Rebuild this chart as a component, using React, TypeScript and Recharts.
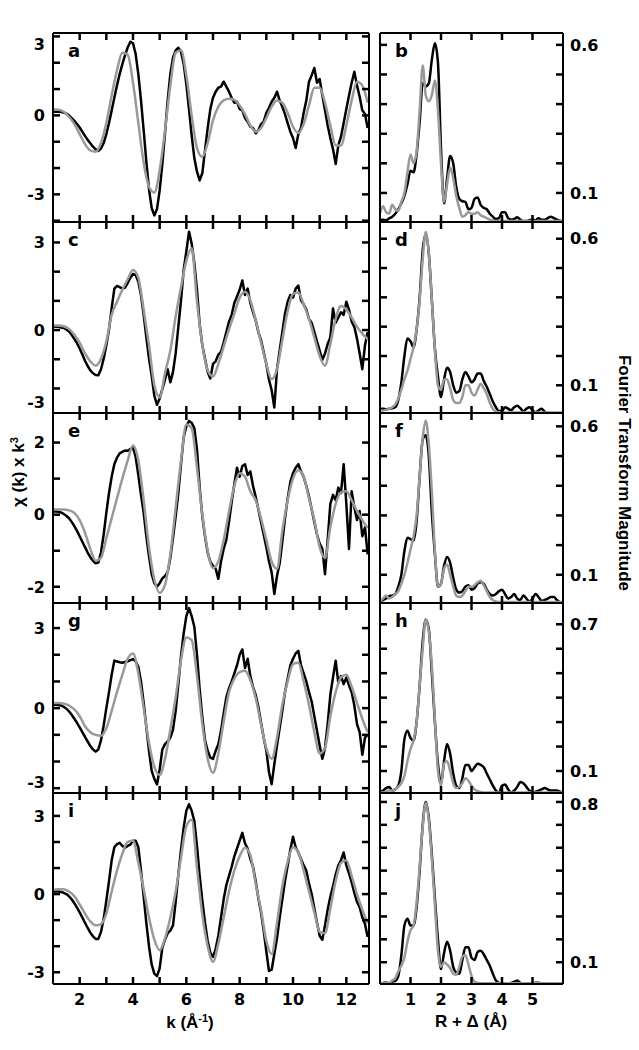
import React from 'react';
import { LineChart, Line, XAxis, YAxis } from 'recharts';

const W = 639;
const H = 1050;
const FONT = "'Liberation Sans', Arial, Helvetica, sans-serif";
const TICK_FONT = "'DejaVu Sans', 'Liberation Sans', Arial, sans-serif";

// ---------- x grids ----------
const kExp = [
  1.0, 1.1, 1.2, 1.3, 1.4, 1.5, 1.6, 1.7, 1.8, 1.9,
  2.0, 2.1, 2.2, 2.3, 2.4, 2.5, 2.6, 2.7, 2.8, 2.9,
  3.0, 3.1, 3.2, 3.3, 3.4, 3.5, 3.6, 3.7, 3.8, 3.9,
  4.0, 4.1, 4.2, 4.3, 4.4, 4.5, 4.6, 4.7, 4.8, 4.9,
  5.0, 5.1, 5.2, 5.3, 5.4, 5.5, 5.6, 5.7, 5.8, 5.9,
  6.0, 6.1, 6.2, 6.3, 6.4, 6.5, 6.6, 6.7, 6.8, 6.9,
  7.0, 7.1, 7.2, 7.3, 7.4, 7.5, 7.6, 7.7, 7.8, 7.9,
  8.0, 8.1, 8.2, 8.3, 8.4, 8.5, 8.6, 8.7, 8.8, 8.9,
  9.0, 9.1, 9.2, 9.3, 9.4, 9.5, 9.6, 9.7, 9.8, 9.9,
  10.0, 10.1, 10.2, 10.3, 10.4, 10.5, 10.6, 10.7, 10.8, 10.9,
  11.0, 11.1, 11.2, 11.3, 11.4, 11.5, 11.6, 11.7, 11.8, 11.9,
  12.0, 12.1, 12.2, 12.3, 12.4, 12.5, 12.6, 12.7, 12.8,
];
const kFit = [
  1.0, 1.2, 1.4, 1.6, 1.8, 2.0, 2.2, 2.4, 2.6, 2.8,
  3.0, 3.2, 3.4, 3.6, 3.8, 4.0, 4.2, 4.4, 4.6, 4.8,
  5.0, 5.2, 5.4, 5.6, 5.8, 6.0, 6.2, 6.4, 6.6, 6.8,
  7.0, 7.2, 7.4, 7.6, 7.8, 8.0, 8.2, 8.4, 8.6, 8.8,
  9.0, 9.2, 9.4, 9.6, 9.8, 10.0, 10.2, 10.4, 10.6, 10.8,
  11.0, 11.2, 11.4, 11.6, 11.8, 12.0, 12.2, 12.4, 12.6, 12.8,
];
const rGrid = [
  0.0, 0.1, 0.2, 0.3, 0.4, 0.5, 0.6, 0.7, 0.8, 0.9,
  1.0, 1.1, 1.2, 1.3, 1.4, 1.5, 1.6, 1.7, 1.8, 1.9,
  2.0, 2.1, 2.2, 2.3, 2.4, 2.5, 2.6, 2.7, 2.8, 2.9,
  3.0, 3.1, 3.2, 3.3, 3.4, 3.5, 3.6, 3.7, 3.8, 3.9,
  4.0, 4.1, 4.2, 4.3, 4.4, 4.5, 4.6, 4.7, 4.8, 4.9,
  5.0, 5.1, 5.2, 5.3, 5.4, 5.5, 5.6, 5.7, 5.8, 5.9,
  6.0,
];

// ---------- chi(k) * k^3 : experimental (black) ----------
const expA = [
  0.14, 0.14, 0.14, 0.13, 0.11, 0.07, 0.0, -0.1, -0.21, -0.33,
  -0.46, -0.62, -0.78, -0.93, -1.06, -1.19, -1.29, -1.35, -1.26, -1.05,
  -0.71, -0.29, 0.19, 0.67, 1.14, 1.57, 1.95, 2.28, 2.58, 2.8,
  2.74, 2.33, 1.57, 0.57, -0.57, -1.76, -2.8, -3.52, -3.8, -3.56,
  -2.85, -1.85, -0.67, 0.57, 1.57, 2.19, 2.47, 2.57, 2.42, 1.95,
  1.19, 0.24, -0.76, -1.62, -2.14, -2.47, -2.19, -1.33, -0.48, 0.24,
  0.67, 0.9, 1.05, 1.09, 1.28, 1.09, 0.9, 0.67, 0.48, 0.52,
  0.24, 0.19, -0.1, -0.24, -0.43, -0.48, -0.68, -0.57, -0.33, -0.24,
  0.1, 0.29, 0.52, 0.67, 0.9, 0.57, 0.33, 0.05, -0.29, -0.62,
  -0.86, -1.24, -0.71, -0.48, 0.1, 0.57, 1.28, 1.52, 1.8, 1.24,
  1.38, 0.76, 0.19, -0.38, -0.86, -1.28, -1.85, -1.14, -0.81, -0.29,
  0.24, 0.76, 1.24, 1.66, 1.14, 0.71, 0.19, 0.05, -0.48,
];
const expC = [
  0.12, 0.11, 0.11, 0.09, 0.07, 0.02, -0.05, -0.16, -0.3, -0.45,
  -0.63, -0.84, -1.05, -1.23, -1.38, -1.48, -1.54, -1.55, -1.34, -0.98,
  -0.52, 0.02, 0.74, 1.42, 1.51, 1.47, 1.42, 1.45, 1.61, 1.79,
  1.92, 1.88, 1.65, 1.2, 0.52, -0.25, -0.98, -1.57, -2.25, -2.56,
  -2.34, -2.02, -1.7, -1.34, -1.79, -1.43, -0.8, 0.11, 1.02, 2.06,
  2.69, 3.37, 2.96, 2.29, 1.38, 0.2, -0.52, -0.98, -1.43, -1.66,
  -1.16, -1.07, -0.84, -0.75, -0.43, -0.07, 0.29, 0.52, 0.93, 1.15,
  1.38, 1.7, 1.2, 1.42, 0.93, 0.61, 0.34, -0.07, -0.34, -0.75,
  -1.16, -1.7, -2.06, -2.65, -1.34, -0.7, -0.07, 0.56, 0.97, 1.2,
  1.11, 1.42, 1.52, 1.02, 0.88, 0.7, 0.38, 0.25, -0.07, -0.39,
  -0.7, -1.02, -0.8, -0.48, -0.25, 0.74, 0.25, 0.43, 0.61, 0.52,
  0.97, 0.7, 0.29, 0.11, -0.3, -0.8, -1.34, -0.52, -0.07,
];
const expE = [
  0.09, 0.09, 0.08, 0.06, 0.02, -0.03, -0.1, -0.2, -0.32, -0.45,
  -0.6, -0.75, -0.9, -1.05, -1.18, -1.28, -1.35, -1.33, -1.05, -0.55,
  0.05, 0.6, 1.05, 1.4, 1.58, 1.7, 1.74, 1.78, 1.77, 1.82,
  1.86, 1.6, 1.1, 0.55, 0.05, -0.6, -1.15, -1.65, -1.9, -2.0,
  -1.9, -1.77, -1.7, -1.6, -1.2, -0.65, -0.05, 0.6, 1.4, 2.15,
  2.45, 2.6, 2.55, 2.4, 1.8, 0.75, -0.05, -0.6, -1.05, -1.3,
  -1.42, -1.5, -1.78, -1.3, -0.95, -0.7, -0.2, 0.35, 0.85, 1.3,
  1.05, 1.35, 1.4, 1.1, 1.2, 0.8, 0.5, 0.15, -0.2, -0.55,
  -0.9, -1.3, -1.6, -2.2, -1.7, -1.35, -0.75, -0.1, 0.45, 0.9,
  1.15, 1.3, 1.4, 1.2, 1.05, 0.8, 0.5, 0.15, -0.2, -0.55,
  -0.8, -0.95, -1.65, -0.7, 0.3, 0.55, 0.4, 0.75, 0.6, 1.4,
  0.3, -0.95, 0.65, 0.2, -0.15, 0.1, -0.6, -0.35, -1.1,
];
const expG = [
  0.13, 0.13, 0.12, 0.1, 0.05, -0.02, -0.12, -0.25, -0.4, -0.55,
  -0.72, -0.9, -1.08, -1.25, -1.42, -1.55, -1.63, -1.55, -1.2, -0.65,
  0.0, 0.6, 1.25, 1.78, 1.75, 1.72, 1.7, 1.73, 1.75, 1.8,
  1.84, 1.75, 1.55, 1.0, 0.2, -0.7, -1.6, -2.35, -2.65, -2.86,
  -2.3, -1.55, -1.35, -1.25, -1.1, -0.8, -0.1, 0.9, 1.95, 2.8,
  3.45, 3.75, 3.45, 3.05, 2.0, 0.7, -0.35, -1.2, -1.6, -1.85,
  -1.9, -1.6, -1.35, -0.85, -0.2, 0.4, 0.75, 1.0, 1.3, 1.6,
  2.0, 2.2, 1.5, 1.85, 1.2, 0.8, 0.5, 0.05, -0.55, -1.1,
  -1.6, -2.4, -2.85, -2.1, -1.4, -0.75, -0.1, 0.6, 1.1, 1.6,
  1.85, 2.05, 2.15, 1.6, 1.3, 1.0, 0.6, 0.25, -0.3, -0.85,
  -1.4, -1.9, -1.5, -0.6, 0.5, 1.15, 1.78, 0.95, 1.2, 0.9,
  1.15, 0.85, 0.6, 0.1, -0.6, -0.9, -1.75, -1.1, -1.0,
];
const expI = [
  0.1, 0.1, 0.1, 0.08, 0.05, 0.0, -0.08, -0.2, -0.35, -0.52,
  -0.7, -0.9, -1.1, -1.3, -1.48, -1.62, -1.72, -1.72, -1.45, -0.95,
  -0.25, 0.5, 1.3, 1.8, 1.92, 1.97, 1.85, 1.78, 1.85, 1.9,
  2.05, 2.05, 1.8, 0.9, -0.1, -1.1, -2.0, -2.7, -3.05, -3.15,
  -2.85, -2.05, -1.75, -1.5, -1.4, -1.2, -0.3, 0.75, 1.7, 2.55,
  3.2, 3.45, 3.2, 2.8, 1.85, 0.7, -0.25, -1.1, -1.8, -2.25,
  -2.41, -2.1, -1.6, -0.9, -0.2, 0.35, 0.7, 1.05, 1.45, 1.75,
  2.05, 2.35, 1.95, 1.75, 1.35, 1.05, 0.5, -0.15, -0.7, -1.4,
  -2.2, -2.95, -2.9, -2.3, -1.7, -0.9, -0.2, 0.5, 1.1, 1.7,
  2.2, 1.8, 1.6, 1.35, 1.1, 0.9, 0.4, 0.0, -0.55, -1.1,
  -1.6, -1.75, -1.2, -0.6, -0.1, 0.3, 0.75, 1.1, 1.3, 1.6,
  1.1, 0.8, 0.45, 0.05, -0.3, -0.5, -0.9, -1.15, -1.65,
];

// ---------- chi(k) * k^3 : fits (grey) ----------
const fitA = [
  0.22, 0.21, 0.14, -0.05, -0.33, -0.71, -1.09, -1.33, -1.38, -1.05,
  -0.29, 0.76, 1.71, 2.38, 2.3, 1.24, -0.29, -1.8, -2.71, -2.93,
  -2.09, -0.57, 1.14, 2.38, 2.47, 1.52, 0.0, -1.24, -1.57, -1.05,
  -0.19, 0.33, 0.57, 0.63, 0.59, 0.38, 0.05, -0.38, -0.62, -0.48,
  -0.1, 0.33, 0.57, 0.48, 0.1, -0.43, -0.67, -0.33, 0.38, 1.05,
  1.05, 0.48, -0.38, -1.14, -1.14, -0.38, 0.57, 1.28, 1.14, 0.48,
];
const fitC = [
  0.16, 0.16, 0.13, 0.04, -0.16, -0.43, -0.8, -1.07, -1.22, -0.98,
  -0.39, 0.52, 0.97, 1.38, 1.74, 2.06, 1.79, 0.7, -0.52, -1.88,
  -2.3, -1.47, -0.7, 0.47, 1.47, 2.37, 2.8, 0.97, -0.52, -1.38,
  -1.59, -1.16, -0.57, 0.02, 0.56, 1.11, 1.31, 1.02, 0.34, -0.43,
  -1.16, -1.68, -1.34, -0.34, 0.65, 1.24, 1.29, 0.88, 0.38, -0.25,
  -0.89, -1.22, -0.48, 0.38, 0.82, 0.7, 0.43, 0.11, -0.12, -0.31,
];
const fitE = [
  0.14, 0.14, 0.14, 0.12, 0.05, -0.15, -0.5, -0.95, -1.28, -1.2,
  -0.65, -0.1, 0.45, 1.0, 1.5, 1.92, 1.5, 0.4, -0.9, -1.8,
  -2.17, -1.95, -1.1, 0.2, 1.5, 2.5, 2.4, 1.3, 0.0, -1.0,
  -1.48, -1.3, -0.7, 0.09, 0.8, 1.15, 1.05, 0.65, 0.4, -0.1,
  -0.7, -1.3, -1.5, -0.45, 0.4, 1.0, 1.23, 1.05, 0.45, -0.15,
  -0.9, -1.2, -0.35, 0.3, 0.62, 0.65, 0.4, 0.1, -0.15, -0.37,
];
const fitG = [
  0.19, 0.19, 0.17, 0.1, -0.05, -0.3, -0.68, -0.9, -1.0, -1.03,
  -0.75, -0.1, 0.6, 1.25, 1.85, 2.05, 1.3, 0.0, -1.3, -2.2,
  -2.5, -1.9, -0.8, 0.4, 1.8, 2.65, 2.55, 1.2, -0.6, -1.9,
  -2.42, -1.7, -0.5, 0.6, 1.1, 1.35, 1.4, 1.05, 0.38, -0.6,
  -1.5, -1.9, -1.1, 0.13, 1.0, 1.65, 1.7, 1.0, 0.13, -0.9,
  -1.7, -1.5, -0.3, 0.6, 1.15, 1.25, 0.8, 0.2, -0.4, -0.9,
];
const fitI = [
  0.17, 0.19, 0.19, 0.1, -0.08, -0.4, -0.75, -1.05, -1.2, -1.15,
  -0.75, 0.1, 0.9, 1.55, 2.0, 2.05, 1.2, 0.2, -0.9, -1.75,
  -2.15, -1.7, -0.9, 0.1, 1.4, 2.6, 2.85, 1.0, -0.8, -2.0,
  -2.6, -1.9, -0.9, 0.1, 0.9, 1.45, 1.78, 1.5, 0.4, -0.6,
  -1.8, -2.3, -1.1, 0.3, 1.25, 1.8, 1.6, 0.9, 0.1, -0.7,
  -1.45, -1.5, -0.55, 0.5, 1.2, 1.3, 0.7, 0.0, -0.6, -1.12,
];

// ---------- Fourier transform magnitude : experimental (black) ----------
const ftExpB = [
  0.01, 0.01, 0.008, 0.014, 0.02, 0.03, 0.045, 0.065, 0.09, 0.13,
  0.175, 0.17, 0.23, 0.34, 0.47, 0.46, 0.47, 0.55, 0.605, 0.54,
  0.25, 0.065, 0.15, 0.225, 0.2, 0.12, 0.08, 0.072, 0.07, 0.045,
  0.05, 0.08, 0.085, 0.06, 0.05, 0.045, 0.03, 0.02, 0.012, 0.015,
  0.035, 0.035, 0.015, 0.01, 0.012, 0.018, 0.01, 0.005, 0.005, 0.008,
  0.01, 0.008, 0.015, 0.01, 0.01, 0.015, 0.02, 0.015, 0.01, 0.006,
  0.005,
];
const ftExpD = [
  0.02, 0.02, 0.018, 0.02, 0.022, 0.025, 0.05, 0.11, 0.2, 0.26,
  0.25, 0.23, 0.29, 0.4, 0.56, 0.615, 0.55, 0.39, 0.225, 0.13,
  0.06, 0.12, 0.16, 0.145, 0.1, 0.075, 0.08, 0.12, 0.145, 0.13,
  0.11, 0.12, 0.14, 0.14, 0.115, 0.095, 0.07, 0.045, 0.025, 0.012,
  0.012, 0.025, 0.02, 0.015, 0.025, 0.03, 0.022, 0.012, 0.02, 0.025,
  0.015, 0.008, 0.015, 0.02, 0.01, 0.006, 0.005, 0.005, 0.005, 0.005,
  0.005,
];
const ftExpF = [
  0.008, 0.015, 0.02, 0.028, 0.03, 0.035, 0.06, 0.1, 0.18, 0.225,
  0.22, 0.215, 0.28, 0.43, 0.555, 0.57, 0.5, 0.31, 0.17, 0.06,
  0.07, 0.13, 0.16, 0.14, 0.09, 0.05, 0.04, 0.045, 0.06, 0.065,
  0.05, 0.055, 0.07, 0.075, 0.07, 0.05, 0.035, 0.03, 0.035, 0.045,
  0.05, 0.035, 0.02, 0.025, 0.035, 0.02, 0.015, 0.03, 0.02, 0.01,
  0.02, 0.035, 0.025, 0.012, 0.015, 0.02, 0.025, 0.025, 0.015, 0.008,
  0.005,
];
const ftExpH = [
  0.014, 0.02, 0.03, 0.035, 0.02, 0.025, 0.04, 0.1, 0.23, 0.265,
  0.235, 0.225, 0.3, 0.45, 0.63, 0.72, 0.68, 0.5, 0.3, 0.13,
  0.05, 0.14, 0.21, 0.17, 0.09, 0.04, 0.03, 0.07, 0.125, 0.125,
  0.1, 0.115, 0.13, 0.125, 0.115, 0.09, 0.065, 0.04, 0.02, 0.012,
  0.04, 0.045, 0.025, 0.012, 0.02, 0.035, 0.055, 0.05, 0.035, 0.02,
  0.012, 0.015, 0.02, 0.025, 0.03, 0.025, 0.02, 0.02, 0.02, 0.015,
  0.012,
];
const ftExpJ = [
  0.004, 0.01, 0.012, 0.006, 0.015, 0.018, 0.04, 0.13, 0.26, 0.29,
  0.26, 0.26, 0.34, 0.5, 0.7, 0.8, 0.73, 0.57, 0.38, 0.2,
  0.07, 0.14, 0.19, 0.15, 0.08, 0.055, 0.05, 0.11, 0.165, 0.165,
  0.12, 0.11, 0.145, 0.15, 0.135, 0.11, 0.085, 0.05, 0.02, 0.01,
  0.008, 0.008, 0.008, 0.01, 0.015, 0.02, 0.01, 0.005, 0.005, 0.007,
  0.008, 0.01, 0.01, 0.008, 0.007, 0.006, 0.006, 0.006, 0.006, 0.006,
  0.006,
];

// ---------- Fourier transform magnitude : fits (grey) ----------
const ftFitB = [
  0.03, 0.055, 0.035, 0.03, 0.06, 0.045, 0.04, 0.07, 0.1, 0.17,
  0.23, 0.2, 0.24, 0.38, 0.53, 0.43, 0.41, 0.43, 0.48, 0.38,
  0.2, 0.07, 0.13, 0.185, 0.15, 0.09, 0.05, 0.02, 0.025, 0.035,
  0.03, 0.03, 0.035, 0.025, 0.02, 0.015, 0.01, 0.008, 0.005, 0.005,
  0.005, 0.005, 0.005, 0.005, 0.005, 0.005, 0.005, 0.005, 0.005, 0.005,
  0.005, 0.005, 0.005, 0.005, 0.005, 0.005, 0.005, 0.005, 0.005, 0.005,
  0.005,
];
const ftFitD = [
  0.014, 0.014, 0.016, 0.02, 0.025, 0.035, 0.055, 0.085, 0.12, 0.15,
  0.19, 0.23, 0.29, 0.39, 0.53, 0.623, 0.55, 0.39, 0.22, 0.1,
  0.085, 0.12, 0.12, 0.09, 0.05, 0.04, 0.04, 0.06, 0.1, 0.1,
  0.075, 0.065, 0.085, 0.105, 0.09, 0.07, 0.04, 0.02, 0.01, 0.008,
  0.007, 0.007, 0.007, 0.007, 0.007, 0.007, 0.007, 0.007, 0.007, 0.007,
  0.007, 0.007, 0.007, 0.007, 0.007, 0.007, 0.007, 0.007, 0.007, 0.007,
  0.007,
];
const ftFitF = [
  0.01, 0.02, 0.03, 0.02, 0.025, 0.035, 0.045, 0.07, 0.1, 0.14,
  0.185, 0.23, 0.3, 0.43, 0.56, 0.62, 0.54, 0.38, 0.18, 0.06,
  0.07, 0.12, 0.135, 0.1, 0.06, 0.03, 0.025, 0.03, 0.045, 0.06,
  0.06, 0.065, 0.075, 0.08, 0.065, 0.045, 0.025, 0.015, 0.01, 0.008,
  0.008, 0.008, 0.008, 0.008, 0.008, 0.008, 0.008, 0.008, 0.008, 0.008,
  0.008, 0.008, 0.008, 0.008, 0.008, 0.008, 0.008, 0.008, 0.008, 0.008,
  0.008,
];
const ftFitH = [
  0.012, 0.012, 0.015, 0.02, 0.02, 0.025, 0.035, 0.05, 0.08, 0.14,
  0.19, 0.225, 0.3, 0.45, 0.6, 0.72, 0.67, 0.53, 0.31, 0.1,
  0.04, 0.13, 0.14, 0.1, 0.05, 0.03, 0.035, 0.05, 0.07, 0.06,
  0.04, 0.025, 0.018, 0.014, 0.012, 0.012, 0.012, 0.012, 0.012, 0.012,
  0.012, 0.012, 0.012, 0.012, 0.012, 0.012, 0.012, 0.012, 0.012, 0.012,
  0.012, 0.012, 0.012, 0.012, 0.012, 0.012, 0.012, 0.012, 0.012, 0.012,
  0.012,
];
const ftFitJ = [
  0.008, 0.008, 0.01, 0.01, 0.02, 0.03, 0.06, 0.085, 0.12, 0.19,
  0.24, 0.26, 0.36, 0.52, 0.69, 0.795, 0.72, 0.55, 0.35, 0.15,
  0.08, 0.1, 0.09, 0.075, 0.05, 0.045, 0.08, 0.125, 0.13, 0.09,
  0.04, 0.015, 0.01, 0.008, 0.008, 0.008, 0.008, 0.008, 0.008, 0.008,
  0.008, 0.008, 0.008, 0.008, 0.008, 0.008, 0.008, 0.008, 0.008, 0.008,
  0.008, 0.008, 0.008, 0.008, 0.008, 0.008, 0.008, 0.008, 0.008, 0.008,
  0.008,
];

// ---------- ticks & labels ----------
const kTicks = [2, 3, 4, 5, 6, 7, 8, 9, 10, 11, 12];
const kTickLabels = [2, 4, 6, 8, 10, 12];
const rTicks = [1, 2, 3, 4, 5];
const rTickLabels = [1, 2, 3, 4, 5];
const panelLetters = ['a', 'b', 'c', 'd', 'e', 'f', 'g', 'h', 'i', 'j'];

// ---------- layout ----------
type Box = { l: number; r: number; t: number; b: number };
const ROWS = [
  [33, 222],
  [222, 413],
  [413, 603],
  [603, 793],
  [793, 984],
];
const LCOL = { l: 53, r: 369 };
const RCOL = { l: 380, r: 563 };

const toRows = (xs: number[], ys: number[]) => xs.map((x, i) => ({ x, y: ys[i] }));

const leftPanels = [
  { exp: expA, fit: fitA, domain: [-4.05, 3.13], ticks: [-4, -3, -2, -1, 0, 1, 2, 3], labels: [3, 0, -3] },
  { exp: expC, fit: fitC, domain: [-2.84, 3.7], ticks: [-3, -2, -1, 0, 1, 2, 3], labels: [3, 0, -3] },
  { exp: expE, fit: fitE, domain: [-2.45, 2.82], ticks: [-2, -1, 0, 1, 2], labels: [2, 0, -2] },
  { exp: expG, fit: fitG, domain: [-3.18, 3.94], ticks: [-3, -2, -1, 0, 1, 2, 3], labels: [3, 0, -3] },
  { exp: expI, fit: fitI, domain: [-3.45, 3.88], ticks: [-3, -2, -1, 0, 1, 2, 3], labels: [3, 0, -3] },
];
const rightPanels = [
  { exp: ftExpB, fit: ftFitB, domain: [0.002, 0.64], ticks: [0.1, 0.2, 0.3, 0.4, 0.5, 0.6], labels: [0.6, 0.1] },
  { exp: ftExpD, fit: ftFitD, domain: [0.0055, 0.657], ticks: [0.1, 0.2, 0.3, 0.4, 0.5, 0.6], labels: [0.6, 0.1] },
  { exp: ftExpF, fit: ftFitF, domain: [0.005, 0.645], ticks: [0.1, 0.2, 0.3, 0.4, 0.5, 0.6], labels: [0.6, 0.1] },
  { exp: ftExpH, fit: ftFitH, domain: [0.01, 0.787], ticks: [0.1, 0.2, 0.3, 0.4, 0.5, 0.6, 0.7], labels: [0.7, 0.1] },
  { exp: ftExpJ, fit: ftFitJ, domain: [0.005, 0.839], ticks: [0.1, 0.2, 0.3, 0.4, 0.5, 0.6, 0.7, 0.8], labels: [0.8, 0.1] },
];

const TICK_LEN = 7;
const TICK_W = 2.5;
const tickTextStyle = { fontFamily: TICK_FONT, fontWeight: 700, fontSize: 16, fill: '#000' } as const;
const hasLabel = (labels: number[], v: number) => labels.some((L) => Math.abs(L - v) < 1e-9);

function yTick(box: Box, side: 'left' | 'right', labels: number[]) {
  return (p: any) => {
    const y = p.y;
    const v = p.payload.value;
    const inside = y > box.t + 1 && y < box.b - 1;
    const x0 = side === 'left' ? box.l : box.r;
    const d = side === 'left' ? 1 : -1;
    const lab = hasLabel(labels, v);
    const ty = Math.min(Math.max(y, box.t + 11), box.b - 11);
    return (
      <g>
        {inside && <line x1={x0} x2={x0 + d * TICK_LEN} y1={y} y2={y} stroke="#000" strokeWidth={TICK_W} />}
        {lab && (
          <text
            x={side === 'left' ? box.l - 8 : box.r + 7}
            y={ty}
            dy="0.36em"
            textAnchor={side === 'left' ? 'end' : 'start'}
            {...tickTextStyle}
          >
            {String(v)}
          </text>
        )}
      </g>
    );
  };
}

function xTick(box: Box, side: 'top' | 'bottom', labels: number[]) {
  return (p: any) => {
    const x = p.x;
    const v = p.payload.value;
    const inside = x > box.l + 1 && x < box.r - 1;
    const y0 = side === 'bottom' ? box.b : box.t;
    const d = side === 'bottom' ? -1 : 1;
    const lab = hasLabel(labels, v);
    return (
      <g>
        {inside && <line x1={x} x2={x} y1={y0} y2={y0 + d * TICK_LEN} stroke="#000" strokeWidth={TICK_W} />}
        {lab && (
          <text x={x} y={box.b + 20.5} textAnchor="middle" {...tickTextStyle}>
            {String(v)}
          </text>
        )}
      </g>
    );
  };
}

const axisLine = { stroke: '#000', strokeWidth: 2 };

function Panel(props: {
  box: Box;
  xDomain: number[];
  xTicks: number[];
  xLabels: number[];
  yDomain: number[];
  yTicks: number[];
  leftLabels: number[];
  rightLabels: number[];
  exp: { x: number; y: number }[];
  fit: { x: number; y: number }[];
  expType: 'linear' | 'monotone';
}) {
  const { box } = props;
  return (
    <div style={{ position: 'absolute', left: 0, top: 0 }}>
      <LineChart width={W} height={H} margin={{ top: 0, right: 0, bottom: 0, left: 0 }}>
        <XAxis
          xAxisId="b"
          type="number"
          dataKey="x"
          orientation="bottom"
          domain={props.xDomain}
          allowDataOverflow
          ticks={props.xTicks}
          interval={0}
          height={H - box.b}
          axisLine={axisLine}
          tickLine={false}
          tick={xTick(box, 'bottom', props.xLabels)}
        />
        <XAxis
          xAxisId="t"
          type="number"
          dataKey="x"
          orientation="top"
          domain={props.xDomain}
          allowDataOverflow
          ticks={props.xTicks}
          interval={0}
          height={box.t}
          axisLine={axisLine}
          tickLine={false}
          tick={xTick(box, 'top', [])}
        />
        <YAxis
          yAxisId="l"
          type="number"
          orientation="left"
          domain={props.yDomain}
          allowDataOverflow
          ticks={props.yTicks}
          interval={0}
          width={box.l}
          axisLine={axisLine}
          tickLine={false}
          tick={yTick(box, 'left', props.leftLabels)}
        />
        <YAxis
          yAxisId="r"
          type="number"
          orientation="right"
          domain={props.yDomain}
          allowDataOverflow
          ticks={props.yTicks}
          interval={0}
          width={W - box.r}
          axisLine={axisLine}
          tickLine={false}
          tick={yTick(box, 'right', props.rightLabels)}
        />
        <Line
          data={props.exp}
          dataKey="y"
          xAxisId="b"
          yAxisId="l"
          type={props.expType}
          stroke="#000"
          strokeWidth={2.5}
          strokeLinejoin="round"
          dot={false}
          activeDot={false}
          isAnimationActive={false}
        />
        <Line
          data={props.fit}
          dataKey="y"
          xAxisId="b"
          yAxisId="l"
          type="monotone"
          stroke="#999999"
          strokeWidth={2.5}
          dot={false}
          activeDot={false}
          isAnimationActive={false}
        />
      </LineChart>
    </div>
  );
}

const titleStyle = { fontFamily: FONT, fontWeight: 700, fontSize: 17, fill: '#000' } as const;

export default function App() {
  return (
    <div style={{ position: 'absolute', left: 0, top: 0, width: W, height: H, background: '#fff', overflow: 'hidden' }}>
      {leftPanels.map((p, i) => {
        const box = { l: LCOL.l, r: LCOL.r, t: ROWS[i][0], b: ROWS[i][1] };
        return (
          <Panel
            key={'L' + i}
            box={box}
            xDomain={[1, 12.85]}
            xTicks={kTicks}
            xLabels={i === 4 ? kTickLabels : []}
            yDomain={p.domain}
            yTicks={p.ticks}
            leftLabels={p.labels}
            rightLabels={[]}
            exp={toRows(kExp, p.exp)}
            fit={toRows(kFit, p.fit)}
            expType="linear"
          />
        );
      })}
      {rightPanels.map((p, i) => {
        const box = { l: RCOL.l, r: RCOL.r, t: ROWS[i][0], b: ROWS[i][1] };
        return (
          <Panel
            key={'R' + i}
            box={box}
            xDomain={[0, 6]}
            xTicks={rTicks}
            xLabels={i === 4 ? rTickLabels : []}
            yDomain={p.domain}
            yTicks={p.ticks}
            leftLabels={[]}
            rightLabels={p.labels}
            exp={toRows(rGrid, p.exp)}
            fit={toRows(rGrid, p.fit)}
            expType="monotone"
          />
        );
      })}
      <svg width={W} height={H} style={{ position: 'absolute', left: 0, top: 0, pointerEvents: 'none' }}>
        {ROWS.map((row, i) => (
          <React.Fragment key={'lt' + i}>
            <text x={LCOL.l + 15} y={row[0] + 24} fontFamily={TICK_FONT} fontWeight={700} fontSize={18}>
              {panelLetters[i * 2]}
            </text>
            <text x={RCOL.l + 15} y={row[0] + 24} fontFamily={TICK_FONT} fontWeight={700} fontSize={18}>
              {panelLetters[i * 2 + 1]}
            </text>
          </React.Fragment>
        ))}
        <text x={190} y={1028} textAnchor="middle" {...titleStyle}>
          k (Å<tspan dy={-6} fontSize={11}>-1</tspan>
          <tspan dy={6}>)</tspan>
        </text>
        <text x={471} y={1027} textAnchor="middle" {...titleStyle}>
          R + Δ (Å)
        </text>
        <text x={24} y={472} textAnchor="middle" transform="rotate(-90 24 472)" {...titleStyle}>
          χ (k) x k<tspan dy={-6} fontSize={11}>3</tspan>
        </text>
        <text x={619} y={473} textAnchor="middle" transform="rotate(90 619 473)" {...titleStyle}>
          Fourier Transform Magnitude
        </text>
      </svg>
    </div>
  );
}
